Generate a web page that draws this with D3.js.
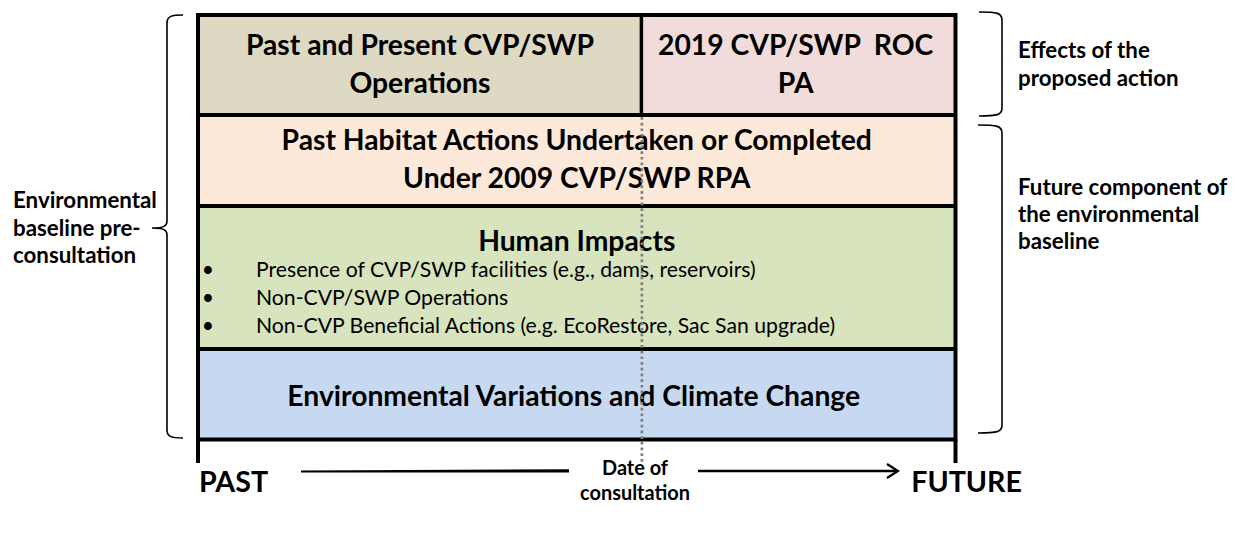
<!DOCTYPE html>
<html>
<head>
<meta charset="utf-8">
<script src="https://cdn.jsdelivr.net/npm/d3@7"></script>
<style>
  body { margin: 0; background: #fff; }
  svg { display: block; }
  text { font-family: Lato, "Open Sans", sans-serif; fill: #000; white-space: pre; }
</style>
</head>
<body>
<svg id="chart" width="1239" height="533"></svg>
<script>
// --- content ---
const topCellLines = [
  ["Past and Present CVP/SWP", "Operations"],
  ["2019 CVP/SWP  ROC", "PA"]
];
const layerLines = [
  ["Past Habitat Actions Undertaken or Completed", "Under 2009 CVP/SWP RPA"],
  ["Human Impacts"],
  ["Environmental Variations and Climate Change"]
];
const humanImpacts = [
  "Presence of CVP/SWP facilities (e.g., dams, reservoirs)",
  "Non-CVP/SWP Operations",
  "Non-CVP Beneficial Actions (e.g. EcoRestore, Sac San upgrade)"
];
const leftLabel = ["Environmental", "baseline pre-", "consultation"];
const effectsLabel = ["Effects of the", "proposed action"];
const futureLabel = ["Future component of", "the environmental", "baseline"];
const timeLabels = ["PAST", "FUTURE"];
const consultLabel = ["Date of", "consultation"];
const layerColors = ["#ddd9c3", "#f2dcdb", "#fde9d9", "#d7e4bd", "#c6d9f1"];

// time runs from 0 (past) to 1 (future); consultation date sits in between
const consultDate = 0.586;

const svg = d3.select("#chart");
const x = d3.scaleLinear().domain([0, 1]).range([198, 955.5]);
const rowEdges = [15, 115, 206, 349, 439.5];
const xMid = (x(0) + x(1)) / 2;

function fitFont(str, weight, target) {
  const t = svg.append("text").attr("font-size", 100).attr("font-weight", weight).text(str);
  const w = t.node().getComputedTextLength();
  t.remove();
  return 100 * target / w;
}

const boxSize = (fitFont("Past and Present CVP/SWP", "bold", 338) +
                 fitFont("Environmental Variations and Climate Change", "bold", 590)) / 2;
const sideSize = (fitFont("Environmental", "bold", 145) + fitFont("Future component of", "bold", 208)) / 2;
const bulletSize = fitFont(humanImpacts[0], "normal", 500);
const timeSize = fitFont("PASTFUTURE", "bold", 180);
const consultSize = fitFont("consultation", "bold", 110);

// --- fills ---
const cells = [
  { x0: 0, x1: consultDate, r: 0, color: layerColors[0] },
  { x0: consultDate, x1: 1, r: 0, color: layerColors[1] },
  { x0: 0, x1: 1, r: 1, color: layerColors[2] },
  { x0: 0, x1: 1, r: 2, color: layerColors[3] },
  { x0: 0, x1: 1, r: 3, color: layerColors[4] }
];
svg.append("g").selectAll("rect")
  .data(cells)
  .join("rect")
    .attr("x", d => x(d.x0))
    .attr("y", d => rowEdges[d.r])
    .attr("width", d => x(d.x1) - x(d.x0))
    .attr("height", d => rowEdges[d.r + 1] - rowEdges[d.r])
    .attr("fill", d => d.color);

// --- frame lines ---
const frame = svg.append("g").attr("stroke", "#000").attr("stroke-width", 4);
frame.append("rect")
  .attr("x", x(0)).attr("y", rowEdges[0])
  .attr("width", x(1) - x(0)).attr("height", rowEdges[4] - rowEdges[0])
  .attr("fill", "none");
frame.selectAll("line.h")
  .data(rowEdges.slice(1, 4))
  .join("line").attr("class", "h")
    .attr("x1", x(0)).attr("x2", x(1))
    .attr("y1", d => d).attr("y2", d => d);
frame.append("line")
  .attr("x1", x(consultDate) - 0.5).attr("x2", x(consultDate) - 0.5)
  .attr("y1", rowEdges[0]).attr("y2", rowEdges[1])
  .attr("stroke-width", 3.5);
frame.selectAll("line.v")
  .data([0, 1])
  .join("line").attr("class", "v")
    .attr("x1", d => x(d)).attr("x2", d => x(d))
    .attr("y1", rowEdges[4]).attr("y2", 463);

// --- box texts ---
function lines(g, arr, cx, baseline, step, size, weight) {
  g.append("text")
    .attr("text-anchor", "middle")
    .attr("font-size", size)
    .attr("font-weight", weight)
    .selectAll("tspan")
    .data(arr)
    .join("tspan")
      .attr("x", cx)
      .attr("y", (d, i) => baseline + i * step)
      .text(d => d);
}
const texts = svg.append("g");
lines(texts, topCellLines[0], (x(0) + x(consultDate)) / 2, 55, 38, boxSize, "bold");
lines(texts, topCellLines[1], (x(consultDate) + x(1)) / 2 - 3, 55, 38, boxSize, "bold");
lines(texts, layerLines[0], xMid, 150, 38, boxSize, "bold");
lines(texts, layerLines[1], xMid, 251, 38, boxSize, "bold");
lines(texts, layerLines[2], xMid - 3, 406, 38, boxSize, "bold");

const bullets = texts.append("g").attr("font-size", bulletSize);
bullets.selectAll("text.dot")
  .data(humanImpacts)
  .join("text").attr("class", "dot")
    .attr("x", 208).attr("y", (d, i) => 277 + i * 28)
    .attr("text-anchor", "middle")
    .text("•");
bullets.selectAll("text.item")
  .data(humanImpacts)
  .join("text").attr("class", "item")
    .attr("x", 256).attr("y", (d, i) => 277 + i * 28)
    .text(d => d);

// --- consultation date dotted line ---
svg.append("line")
  .attr("x1", x(consultDate)).attr("x2", x(consultDate))
  .attr("y1", rowEdges[1] + 2).attr("y2", 463)
  .attr("stroke", "#7f7f7f")
  .attr("stroke-width", 2.7)
  .attr("stroke-dasharray", "2.7 3");

// --- braces ---
const braces = svg.append("g").attr("fill", "none").attr("stroke", "#000").attr("stroke-width", 1.6);
function leftBrace(bx, y0, y1, tipY, hook, tip) {
  const p = d3.path();
  p.moveTo(bx + hook, y0);
  p.bezierCurveTo(bx + 5, y0, bx, y0 + 1, bx, y0 + 8);
  p.lineTo(bx, tipY - 7);
  p.bezierCurveTo(bx, tipY - 2, bx - 3, tipY, bx - tip, tipY);
  p.bezierCurveTo(bx - 3, tipY, bx, tipY + 2, bx, tipY + 7);
  p.lineTo(bx, y1 - 8);
  p.bezierCurveTo(bx, y1 - 1, bx + 5, y1, bx + hook, y1);
  return p.toString();
}
function rightBrace(bx, y0, y1, hook) {
  const p = d3.path();
  p.moveTo(bx - hook, y0);
  p.bezierCurveTo(bx - 5, y0, bx, y0 + 1, bx, y0 + 8);
  p.lineTo(bx, y1 - 8);
  p.bezierCurveTo(bx, y1 - 1, bx - 5, y1, bx - hook, y1);
  return p.toString();
}
braces.append("path").attr("d", leftBrace(167, 15, 438, 228, 16, 15));
braces.append("path").attr("d", rightBrace(1002, 12, 116, 23));
braces.append("path").attr("d", rightBrace(1002, 125, 433, 24));

// --- side labels ---
function sideText(arr, sx, baseline, step) {
  svg.append("text")
    .attr("font-size", sideSize)
    .attr("font-weight", "bold")
    .selectAll("tspan")
    .data(arr)
    .join("tspan")
      .attr("x", sx)
      .attr("y", (d, i) => baseline + i * step)
      .text(d => d);
}
sideText(leftLabel, 13, 208, 27.5);
sideText(effectsLabel, 1018, 58, 28);
sideText(futureLabel, 1018, 195, 27);

// --- time axis ---
const axis = svg.append("g");
axis.append("text")
  .attr("x", 199).attr("y", 492)
  .attr("font-size", timeSize).attr("font-weight", "bold")
  .text(timeLabels[0]);
axis.append("text")
  .attr("x", 1022).attr("y", 492)
  .attr("text-anchor", "end")
  .attr("font-size", timeSize).attr("font-weight", "bold")
  .text(timeLabels[1]);
axis.append("text")
  .attr("text-anchor", "middle")
  .attr("font-size", consultSize).attr("font-weight", "bold")
  .selectAll("tspan")
  .data(consultLabel)
  .join("tspan")
    .attr("x", 635)
    .attr("y", (d, i) => 475 + i * 25)
    .text(d => d);

axis.append("path")
  .attr("d", "M301,470.6 L569,469.2 L569,472.6 L301,472.4 Z")
  .attr("fill", "#000");
axis.append("line")
  .attr("x1", 698).attr("x2", 897)
  .attr("y1", 471).attr("y2", 471)
  .attr("stroke", "#000").attr("stroke-width", 2.4);
axis.append("path")
  .attr("d", "M887,464 L898,471 L887,478")
  .attr("fill", "none").attr("stroke", "#000").attr("stroke-width", 2.2);
</script>
</body>
</html>
